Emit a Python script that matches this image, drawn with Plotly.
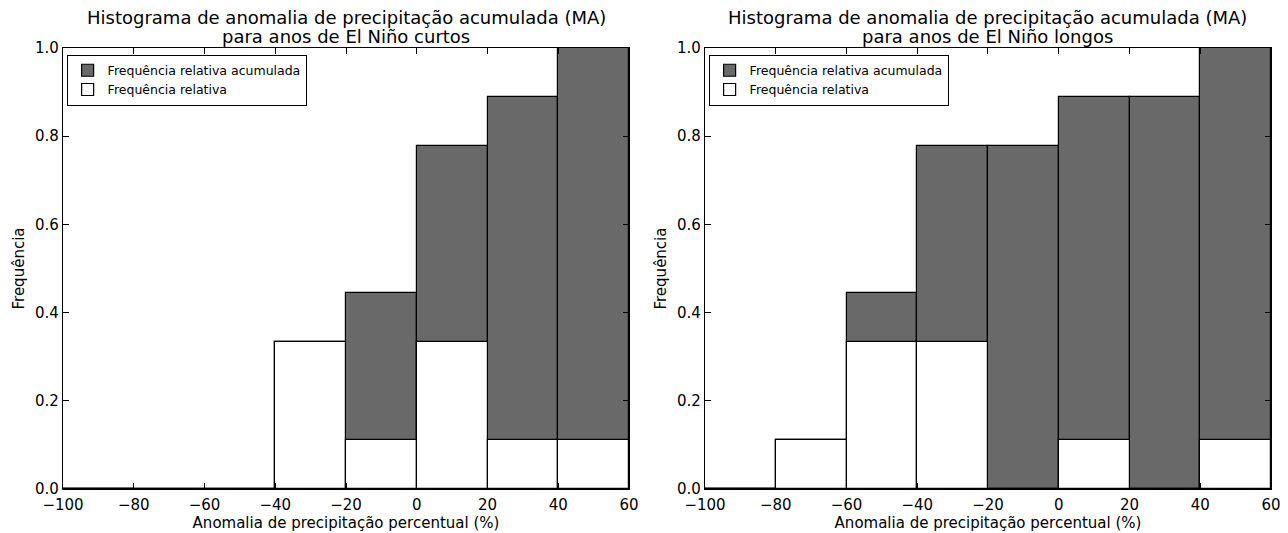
import plotly.graph_objects as go
from plotly.subplots import make_subplots

bin_edges = [-100, -80, -60, -40, -20, 0, 20, 40, 60]
curtos_rel = [0.0, 0.0, 0.0, 0.333, 0.111, 0.333, 0.111, 0.111]
curtos_cum = [0.0, 0.0, 0.0, 0.333, 0.444, 0.778, 0.889, 1.0]
longos_rel = [0.0, 0.111, 0.333, 0.333, 0.0, 0.111, 0.0, 0.111]
longos_cum = [0.0, 0.111, 0.444, 0.778, 0.778, 0.889, 0.889, 1.0]
title_line1 = ["Histograma de anomalia de precipitação acumulada (MA)",
               "Histograma de anomalia de precipitação acumulada (MA)"]
title_line2 = ["para anos de El Niño curtos", "para anos de El Niño longos"]
x_ticks = [-100, -80, -60, -40, -20, 0, 20, 40, 60]
y_ticks = [0.0, 0.2, 0.4, 0.6, 0.8, 1.0]

FONT = "DejaVu Sans"
GREY = "#696969"

centers = [(a + b) / 2 for a, b in zip(bin_edges[:-1], bin_edges[1:])]
widths = [b - a for a, b in zip(bin_edges[:-1], bin_edges[1:])]

fig = make_subplots(rows=1, cols=2, horizontal_spacing=0.0629)

datasets = [(curtos_rel, curtos_cum), (longos_rel, longos_cum)]
for i, (rel, cum) in enumerate(datasets):
    col = i + 1
    leg = "legend" if i == 0 else "legend2"
    fig.add_trace(go.Bar(x=centers, y=cum, width=widths, name="Frequência relativa acumulada",
                         marker=dict(color=GREY, line=dict(color="black", width=1.2)),
                         legend=leg), row=1, col=col)
    fig.add_trace(go.Bar(x=centers, y=rel, width=widths, name="Frequência relativa",
                         marker=dict(color="white", line=dict(color="black", width=1.2)),
                         legend=leg), row=1, col=col)
    fig.add_trace(go.Scatter(x=bin_edges[:2], y=[0, 0], mode="lines",
                             line=dict(color="black", width=2.5), showlegend=False,
                             hoverinfo="skip", cliponaxis=False), row=1, col=col)

axis_common = dict(showline=True, linecolor="black", linewidth=1.2, mirror="ticks",
                   ticks="inside", ticklen=6, tickcolor="black", showgrid=False, zeroline=False,
                   automargin=False,
                   tickfont=dict(family=FONT, size=15, color="black"))
for i in range(2):
    col = i + 1
    fig.update_xaxes(range=[bin_edges[0], bin_edges[-1]], tickvals=x_ticks,
                     ticklabelstandoff=2,
                     title=dict(text="Anomalia de precipitação percentual (%)",
                                font=dict(family=FONT, size=15, color="black"), standoff=2),
                     **axis_common, row=1, col=col)
    fig.update_yaxes(range=[0, 1], tickvals=y_ticks, tickformat=".1f",
                     title=dict(text="Frequência", font=dict(family=FONT, size=15, color="black"),
                                standoff=6),
                     **axis_common, row=1, col=col)

xd1 = fig.layout.xaxis.domain
xd2 = fig.layout.xaxis2.domain
for dom, t1, t2 in zip([xd1, xd2], title_line1, title_line2):
    for txt, ys in [(t1, 31), (t2, 12)]:
        fig.add_annotation(text=txt, x=(dom[0] + dom[1]) / 2, y=1, xref="paper", yref="paper",
                           xanchor="center", yanchor="middle", yshift=ys, showarrow=False,
                           font=dict(family=FONT, size=18, color="black"))

legend_common = dict(bgcolor="white", bordercolor="black", borderwidth=1,
                     font=dict(family=FONT, size=12.5, color="black"), traceorder="normal",
                     xanchor="left", yanchor="top", y=0.985, itemwidth=30,
                     tracegroupgap=0)
fig.update_layout(
    barmode="overlay",
    bargap=0,
    width=1288, height=533,
    margin=dict(l=63, r=17, t=48, b=44, autoexpand=False),
    plot_bgcolor="white", paper_bgcolor="white",
    font=dict(family=FONT, color="black"),
    legend=dict(x=xd1[0] + 0.003, **legend_common),
    legend2=dict(x=xd2[0] + 0.003, **legend_common),
)

fig.write_html("out.html")
